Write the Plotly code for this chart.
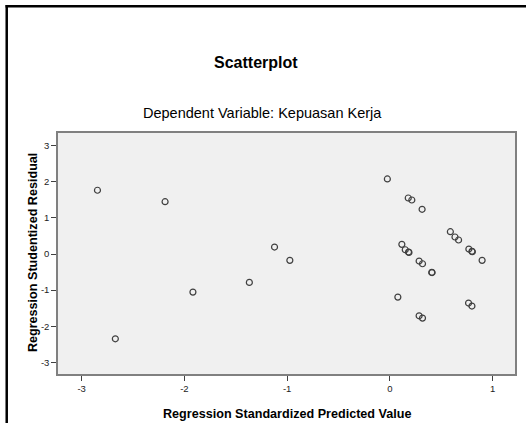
import plotly.graph_objects as go

# Regression Standardized Predicted Value
pred = [-2.846, -2.188, -1.123, -0.974, -1.368, -1.917, -2.672,
        -0.025, 0.178, 0.213, 0.313, 0.588, 0.633, 0.668,
        0.116, 0.149, 0.181, 0.185, 0.768, 0.798, 0.802, 0.897,
        0.284, 0.317, 0.407, 0.410, 0.077, 0.765, 0.798, 0.284, 0.317]
# Regression Studentized Residual
resid = [1.765, 1.449, 0.194, -0.175, -0.785, -1.053, -2.346,
         2.078, 1.551, 1.496, 1.238, 0.618, 0.471, 0.388,
         0.268, 0.119, 0.055, 0.045, 0.138, 0.075, 0.065, -0.175,
         -0.194, -0.268, -0.508, -0.512, -1.191, -1.357, -1.440, -1.709, -1.773]

x_ticks = [-3, -2, -1, 0, 1]
y_ticks = [-3, -2, -1, 0, 1, 2, 3]

W, H = 526, 423
L, R, T, B = 58, 517, 133, 374
pw, ph = R - L, B - T

def px(xp):
    return (xp - L) / pw

def py(yp):
    return (B - yp) / ph

fig = go.Figure()
fig.add_trace(go.Scatter(
    x=pred, y=resid, mode="markers",
    marker=dict(symbol="circle-open", size=6, color="#404040", line=dict(width=1.2, color="#404040")),
    showlegend=False, hoverinfo="x+y",
))

font = "Liberation Sans, Arial, sans-serif"
axis_common = dict(
    showgrid=False, zeroline=False, showline=True, linecolor="#808080", linewidth=1.5,
    mirror=True, ticks="outside", ticklen=5, tickcolor="#404040", tickwidth=1,
    tickfont=dict(family=font, size=9.5, color="#222222"),
)
fig.update_layout(
    width=W, height=H,
    margin=dict(l=L, r=W - R, t=T, b=H - B),
    paper_bgcolor="white", plot_bgcolor="#F0F0F0",
    xaxis=dict(range=[-3.23, 1.217], tickvals=x_ticks, ticktext=[str(v) for v in x_ticks], **axis_common),
    yaxis=dict(range=[-3.32, 3.35], tickvals=y_ticks, ticktext=[str(v) for v in y_ticks], **axis_common),
    font=dict(family=font),
)

annotations = [
    dict(text="<b>Scatterplot</b>", x=px(256.5), y=py(63), size=16),
    dict(text="Dependent Variable: Kepuasan Kerja", x=px(263), y=py(113), size=14.5),
    dict(text="<b>Regression Standardized Predicted Value</b>", x=px(287.5), y=py(414), size=12.6),
]
for a in annotations:
    fig.add_annotation(text=a["text"], x=a["x"], y=a["y"], xref="paper", yref="paper",
                       showarrow=False, xanchor="center", yanchor="middle",
                       font=dict(family=font, size=a["size"], color="black"))
fig.add_annotation(text="<b>Regression Studentized Residual</b>", x=px(33), y=py(253),
                   xref="paper", yref="paper", showarrow=False, textangle=-90,
                   xanchor="center", yanchor="middle",
                   font=dict(family=font, size=12.6, color="black"))

# outer frame (left and top edges visible)
fig.add_shape(type="line", xref="paper", yref="paper",
              x0=px(6.5), x1=px(6.5), y0=py(5), y1=py(430),
              line=dict(color="black", width=2.5), layer="above")
fig.add_shape(type="line", xref="paper", yref="paper",
              x0=px(5.3), x1=px(530), y0=py(6.3), y1=py(6.3),
              line=dict(color="black", width=2.5), layer="above")

fig.write_html("out.html", config={"displayModeBar": False},
               post_script="document.body.style.margin='0px';document.body.style.overflow='hidden';")
